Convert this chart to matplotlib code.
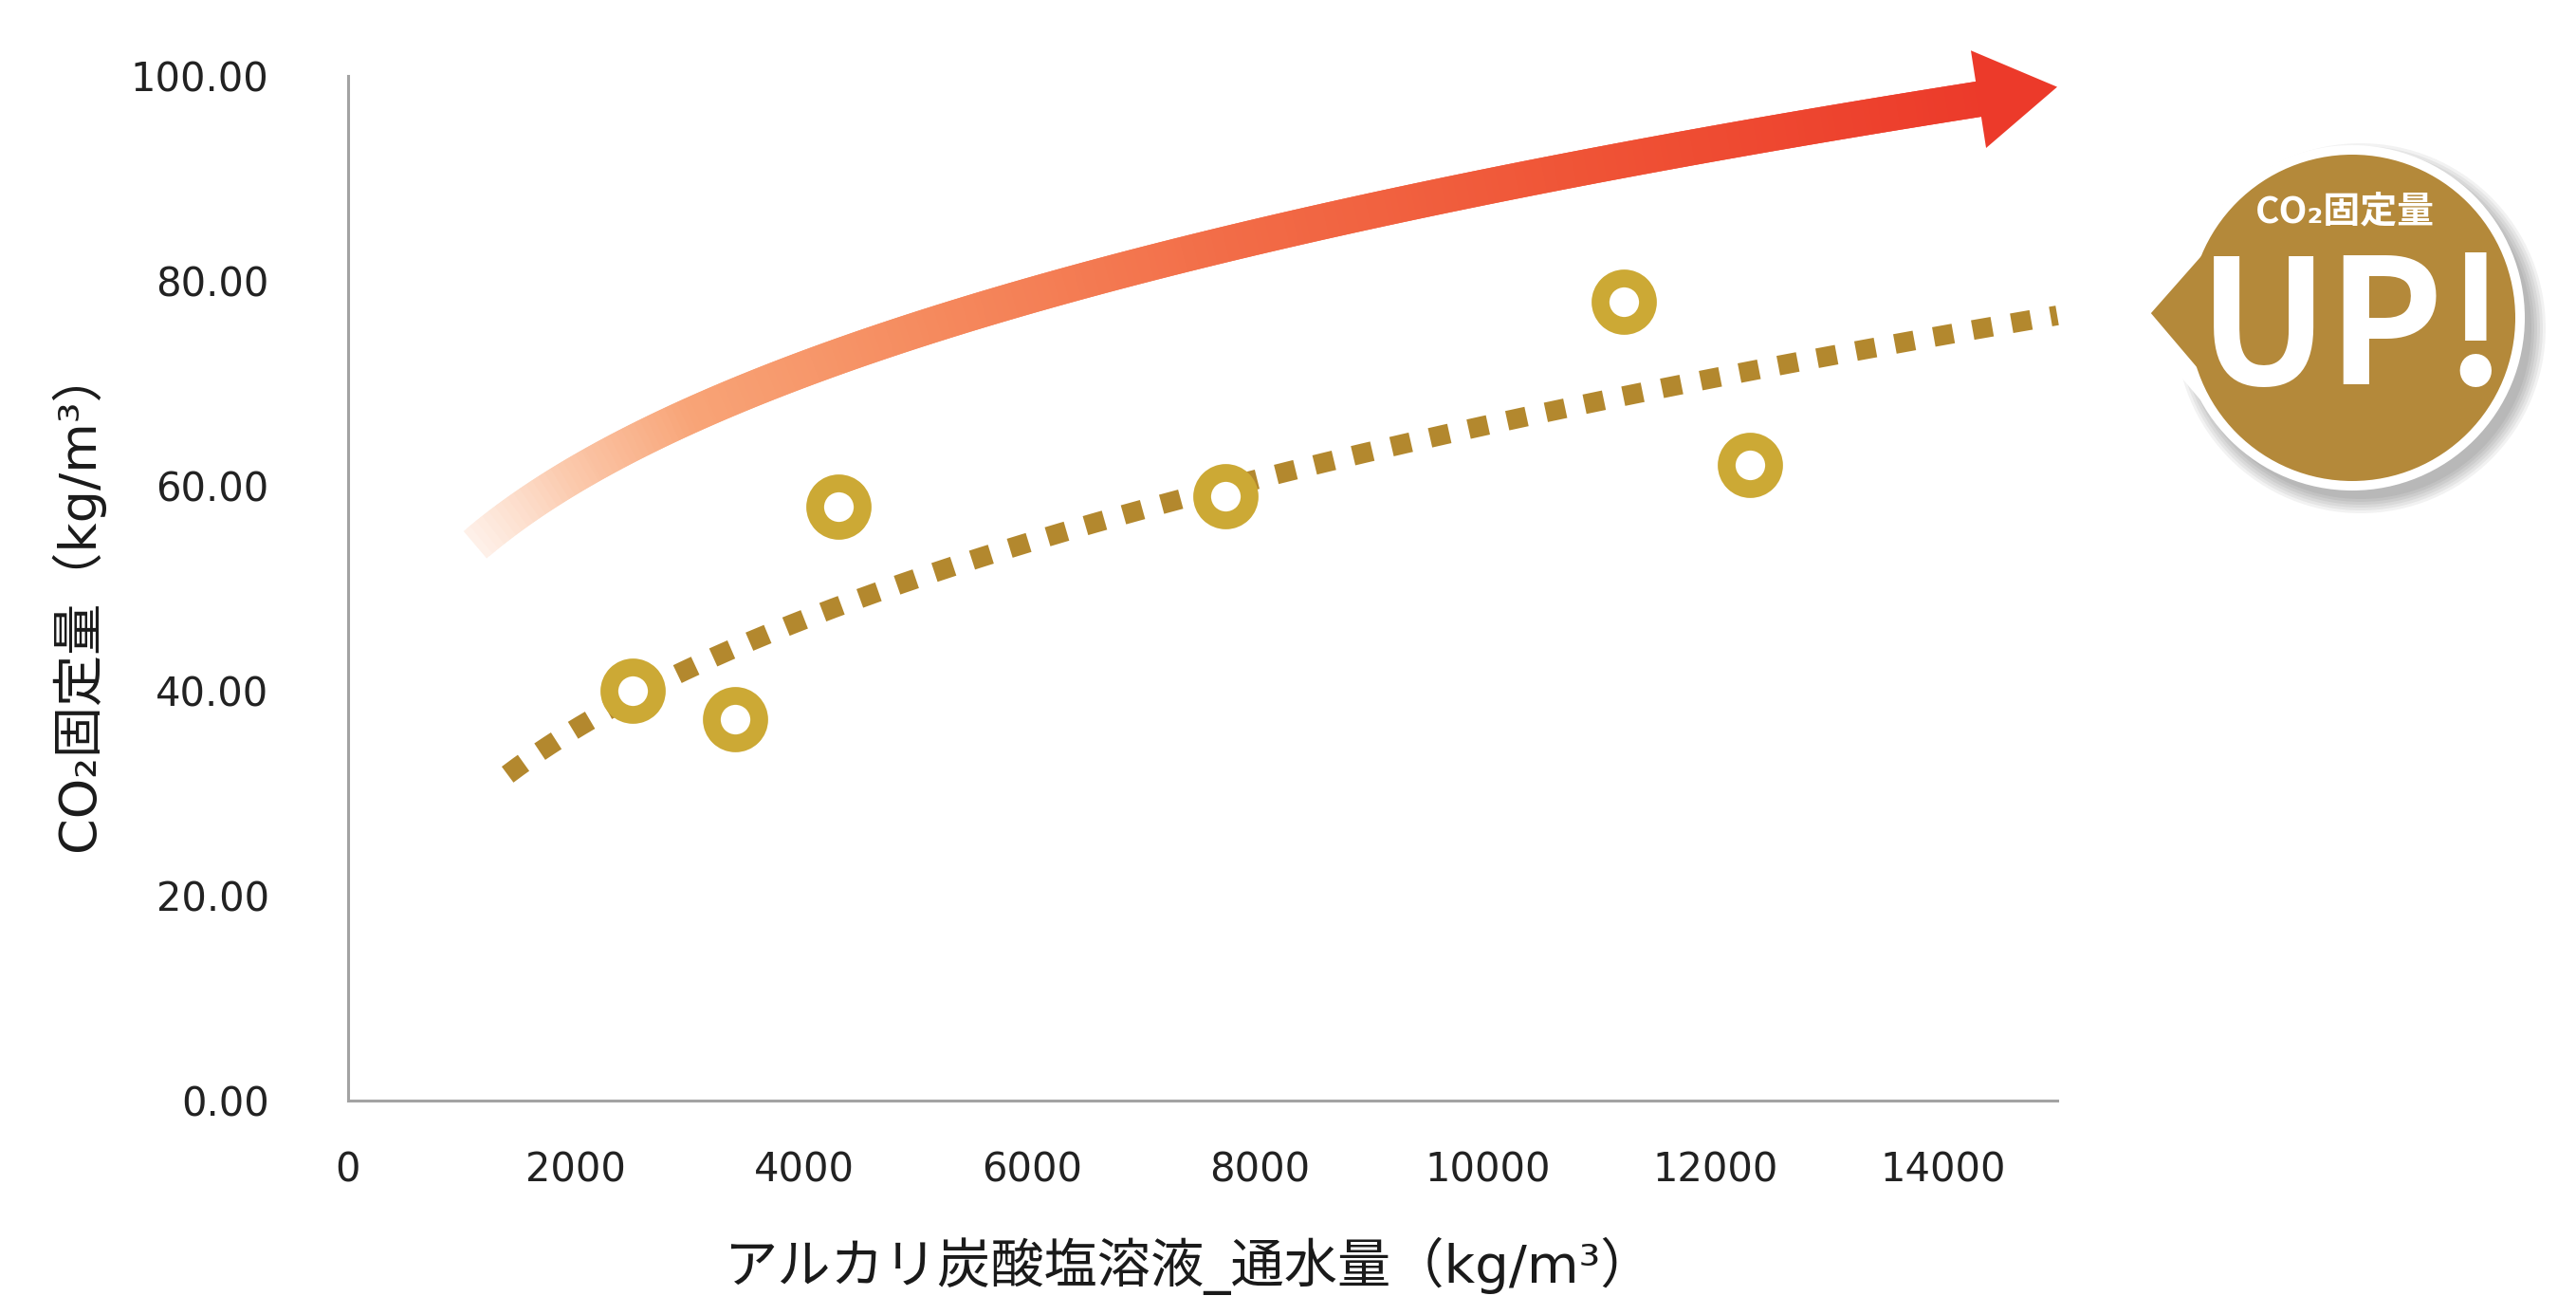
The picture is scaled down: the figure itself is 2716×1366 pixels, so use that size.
import numpy as np
import matplotlib
matplotlib.use('Agg')
import matplotlib.pyplot as plt
from matplotlib.collections import LineCollection
from matplotlib.colors import LinearSegmentedColormap
from matplotlib.patches import Circle, Polygon
from matplotlib import font_manager

# measured points
flow = [2500, 3400, 4300, 7700, 11200, 12300]
co2 = [40.0, 37.2, 58.0, 59.0, 78.0, 62.0]

x_ticks = [0, 2000, 4000, 6000, 8000, 10000, 12000, 14000]
y_ticks = [0, 20, 40, 60, 80, 100]

xlabel = 'アルカリ炭酸塩溶液_通水量（kg/m³）'
ylabel = 'CO₂固定量（kg/m³）'
badge_small = 'CO₂固定量'
badge_big = 'UP!'

label_fonts = ['DejaVu Sans', 'Noto Sans CJK JP']
badge_fonts = ['Noto Sans CJK JP', 'DejaVu Sans']

ring_color = '#CCA935'
dot_color = '#B3882E'
badge_color = '#B4893A'


def has_font(name):
  try:
    font_manager.findfont(font_manager.FontProperties(family=name, weight='bold'),
                          fallback_to_default=False)
    return True
  except Exception:
    return False


def main():
  W, H = 2716, 1366
  fig = plt.figure(figsize=(W / 100, H / 100), dpi=100)
  ax = fig.add_axes([367 / W, 1 - 1160 / H, 1802 / W, 1080 / H])
  ax.set_xlim(0, 15000)
  ax.set_ylim(0, 100)

  for side in ['top', 'right']:
    ax.spines[side].set_visible(False)
  for side in ['left', 'bottom']:
    ax.spines[side].set_color('#a3a3a3')
    ax.spines[side].set_linewidth(2.2)

  ax.set_xticks(x_ticks)
  ax.set_xticklabels([str(v) for v in x_ticks])
  ax.set_yticks(y_ticks)
  ax.set_yticklabels(['%.2f' % v for v in y_ticks])
  ax.tick_params(axis='both', length=0, labelsize=30, colors='#222222')
  ax.tick_params(axis='y', pad=60)
  ax.tick_params(axis='x', pad=38)

  # power trendline fitted on the points
  b, ln_a = np.polyfit(np.log(flow), np.log(co2), 1)
  trend_x = np.linspace(1400, 15000, 300)
  trend_y = np.exp(ln_a) * trend_x ** b
  ax.plot(trend_x, trend_y, color=dot_color, lw=15, linestyle=(0, (1, 1)),
          dash_capstyle='butt', zorder=3, clip_on=False)

  ax.plot(flow, co2, 'o', ms=36, mfc='white', mec=ring_color, mew=13.5,
          zorder=4, clip_on=False)

  # decorative gradient arrow above the trend
  def arrow_y(x):
    return np.exp(ln_a) * x ** b + np.interp(x, [1115, 15000], [25.0, 22.3])

  tip = ax.transData.transform((15000, arrow_y(15000)))
  back = ax.transData.transform((14000, arrow_y(14000)))
  d = (tip - back) / np.hypot(*(tip - back))
  n = np.array([-d[1], d[0]])
  base = tip - 84 * d
  head = [tip, base + 52 * n, base - 52 * n]
  head = ax.transData.inverted().transform(head)
  shaft_end = ax.transData.inverted().transform(base + 8 * d)[0]

  sx = np.linspace(1115, shaft_end, 500)
  sy = arrow_y(sx)
  pts = np.column_stack([sx, sy])
  segs = [pts[i:i + 3] for i in range(len(pts) - 2)]
  grad = LinearSegmentedColormap.from_list('arrow', [
    (0.0, '#FEF0E8'), (0.06, '#FBC9AC'), (0.14, '#F8A477'), (0.3, '#F58A5E'),
    (0.5, '#F26C47'), (0.75, '#EF5235'), (1.0, '#EC3A2A')])
  t = (sx[:-2] - sx[0]) / (sx[-1] - sx[0])
  lc = LineCollection(segs, colors=grad(t), linewidths=27, capstyle='butt',
                      zorder=2, clip_on=False)
  ax.add_collection(lc)
  ax.add_patch(Polygon(head, closed=True, facecolor='#EC3A2A', edgecolor='none',
                       zorder=2, clip_on=False))

  fig.text(81 / W, 1 - 632 / H, ylabel, rotation=90, ha='center', va='center',
           fontsize=39, family=label_fonts, color='#1a1a1a')
  fig.text(1253 / W, 1 - 1334 / H, xlabel, ha='center', va='center',
           fontsize=40.5, family=label_fonts, color='#1a1a1a')

  # badge
  ov = fig.add_axes([0, 0, 1, 1], zorder=10)
  ov.set_xlim(0, W)
  ov.set_ylim(H, 0)
  ov.set_axis_off()
  ov.patch.set_visible(False)

  cx, cy, r = 2480, 335, 172
  tail = [(2255, 330), (2345, 228), (2340, 430)]
  for k in range(6):
    ov.add_patch(Circle((cx + 9, cy + 11), r + 8 + k * 3, facecolor='#000000',
                        alpha=0.05, edgecolor='none'))
  ov.add_patch(Polygon([(x + 6, y + 9) for x, y in tail], facecolor='#000000',
                       alpha=0.15, edgecolor='none'))
  ov.add_patch(Circle((cx, cy), r + 10, facecolor='white', edgecolor='none'))
  ov.add_patch(Polygon(tail, closed=True, facecolor=badge_color, edgecolor='white',
                       linewidth=14, joinstyle='round'))
  ov.add_patch(Circle((cx, cy), r, facecolor=badge_color, edgecolor='none'))

  ov.text(2472, 224, badge_small, ha='center', va='center', fontsize=28,
          fontweight='bold', family=badge_fonts, color='white')
  if has_font('Liberation Sans Narrow'):
    ov.text(2482, 352, badge_big, ha='center', va='center', fontsize=146,
            fontweight='bold', family='Liberation Sans Narrow', color='white')
  else:
    ov.text(2482, 352, badge_big, ha='center', va='center', fontsize=132,
            fontweight='bold', family=badge_fonts, color='white')

  fig.savefig('out.png', dpi=100, facecolor='white')


if __name__ == '__main__':
  main()
